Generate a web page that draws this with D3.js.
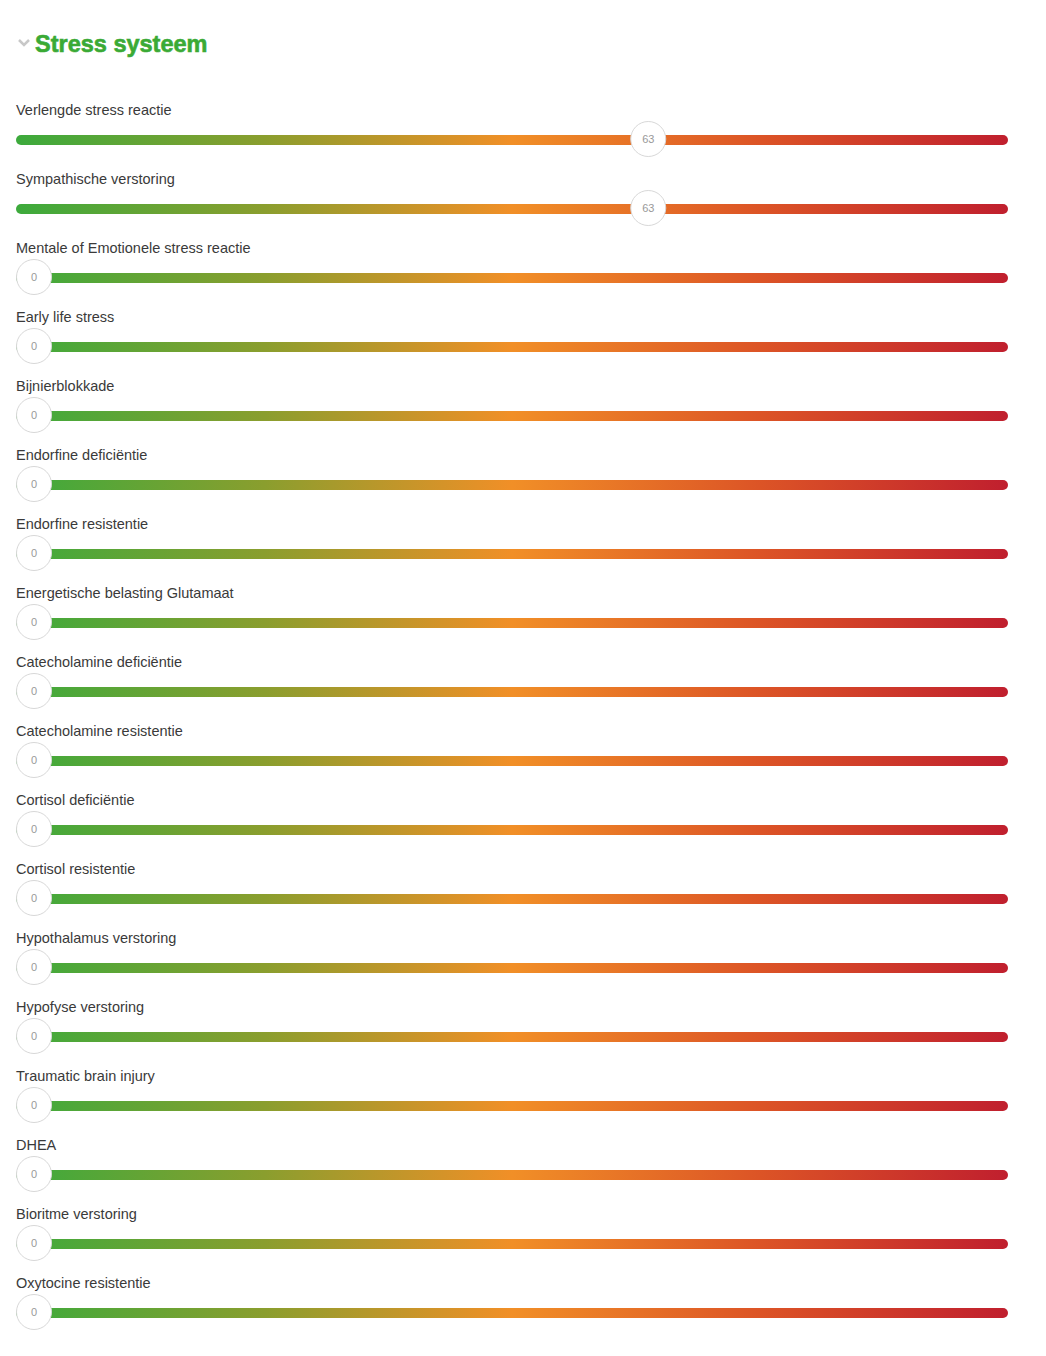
<!DOCTYPE html>
<html><head><meta charset="utf-8">
<script src="https://cdn.jsdelivr.net/npm/d3@7"></script>
<style>body{margin:0;background:#fff;font-family:"Liberation Sans",Arial,sans-serif;}</style>
</head><body><svg id="chart" width="1046" height="1356"></svg>
<script>
const labels = ["Verlengde stress reactie","Sympathische verstoring","Mentale of Emotionele stress reactie","Early life stress","Bijnierblokkade","Endorfine deficiëntie","Endorfine resistentie","Energetische belasting Glutamaat","Catecholamine deficiëntie","Catecholamine resistentie","Cortisol deficiëntie","Cortisol resistentie","Hypothalamus verstoring","Hypofyse verstoring","Traumatic brain injury","DHEA","Bioritme verstoring","Oxytocine resistentie"];
const values = [63,63,0,0,0,0,0,0,0,0,0,0,0,0,0,0,0,0];
const gradStops = ["#3caa3c","#8a9e2e","#f18f27","#dc5426","#c01f2e"];

const svg = d3.select('#chart');
const x = d3.scaleLinear().domain([0,100]).range([34,1009]);
const y = d3.scaleBand().domain(labels).range([104,1346]);

const defs = svg.append('defs');
const g = defs.append('linearGradient').attr('id','grad')
  .attr('gradientUnits','userSpaceOnUse').attr('x1',16).attr('x2',1008).attr('y1',0).attr('y2',0);
gradStops.forEach((c,i)=>g.append('stop').attr('offset',i/(gradStops.length-1)).attr('stop-color',c));

// header
svg.append('path').attr('d','M19,40 L24,45 L29,40').attr('fill','none').attr('stroke','#c8c8c8').attr('stroke-width',2.5);
svg.append('text').attr('x',35).attr('y',52).text('Stress systeem')
  .attr('fill','#3aaa35').attr('font-weight','bold').attr('font-size',23.5)
  .attr('stroke','#3aaa35').attr('stroke-width',0.6);

const rows = svg.selectAll('g.row').data(labels).join('g').attr('class','row')
  .attr('transform',d=>`translate(0,${y(d)})`);
rows.append('text').attr('x',16).attr('y',11).text(d=>d).attr('font-size',14.5).attr('fill','#3a3a3a');
rows.append('rect').attr('x',16).attr('y',31).attr('width',992).attr('height',10).attr('rx',5).attr('fill','url(#grad)');
rows.append('circle').attr('cx',(d,i)=>x(values[i])).attr('cy',35).attr('r',17.5)
  .attr('fill','#fff').attr('stroke','#d8d8d8').attr('stroke-width',1);
rows.append('text').attr('x',(d,i)=>x(values[i])).attr('y',39).attr('text-anchor','middle')
  .attr('font-size',11).attr('fill','#999').text((d,i)=>values[i]);
</script></body></html>
